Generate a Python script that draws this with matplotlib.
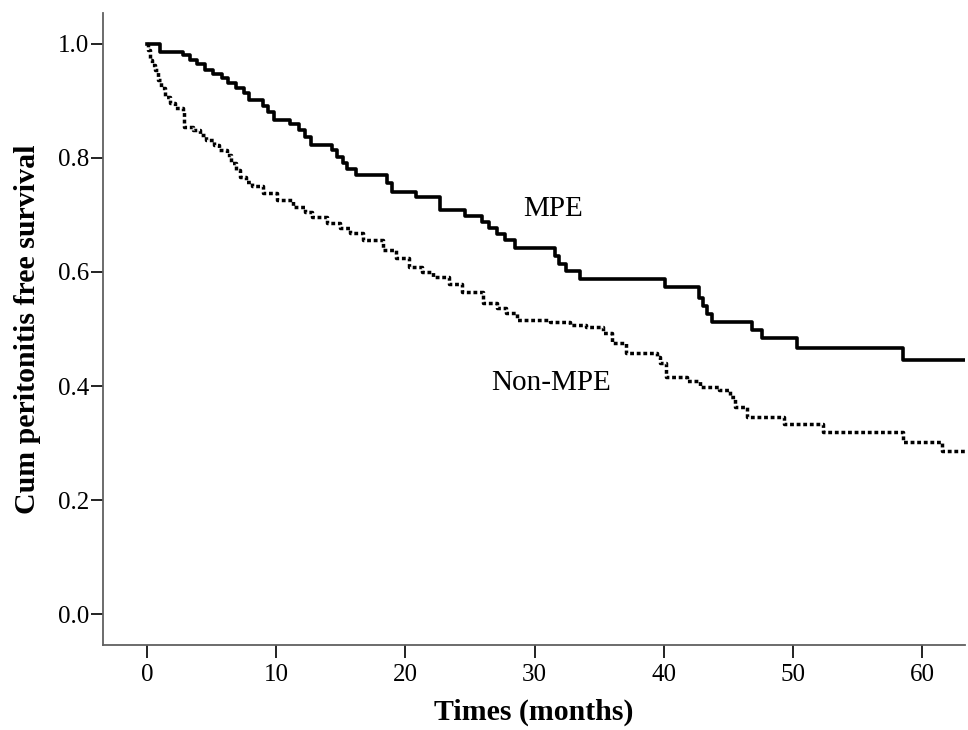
import matplotlib
matplotlib.use("Agg")
import matplotlib.pyplot as plt

# Kaplan-Meier step data (time in months, cumulative survival)
mpe_times = [0, 1.0, 2.8, 3.3, 3.9, 4.5, 5.1, 5.8, 6.3, 6.9, 7.5, 7.9, 9.0, 9.4, 9.8,
             11.1, 11.8, 12.2, 12.7, 14.3, 14.7, 15.2, 15.5, 16.2, 18.6, 19.0, 20.8,
             22.7, 24.6, 25.9, 26.5, 27.1, 27.7, 28.5, 31.6, 31.9, 32.4, 33.5, 40.1,
             42.7, 43.0, 43.3, 43.7, 46.8, 47.6, 50.3, 58.5, 63.3]
mpe_surv = [1.0, 0.986, 0.981, 0.972, 0.965, 0.954, 0.947, 0.940, 0.932, 0.923, 0.914,
            0.902, 0.891, 0.881, 0.867, 0.860, 0.849, 0.837, 0.823, 0.814, 0.802, 0.791,
            0.781, 0.770, 0.756, 0.740, 0.732, 0.709, 0.698, 0.688, 0.677, 0.667, 0.656,
            0.642, 0.628, 0.614, 0.602, 0.588, 0.574, 0.554, 0.540, 0.526, 0.512, 0.498,
            0.484, 0.467, 0.446, 0.446]

nonmpe_times = [0, 0.1, 0.2, 0.4, 0.6, 0.85, 1.1, 1.4, 1.8, 2.2, 2.8, 2.9, 3.6, 4.1, 4.6,
                5.2, 5.6, 6.2, 6.5, 6.9, 7.2, 7.7, 8.1, 9.0, 10.1, 11.3, 12.2, 12.8, 13.9,
                14.9, 15.7, 16.7, 18.3, 19.3, 20.3, 21.3, 22.1, 23.4, 24.4, 26.0, 27.1,
                27.8, 28.6, 31.2, 32.7, 34.0, 35.3, 36.0, 37.1, 39.5, 39.7, 40.2, 41.8,
                42.8, 44.3, 45.1, 45.5, 46.4, 49.3, 52.3, 58.5, 61.5, 63.3]
nonmpe_surv = [1.0, 0.989, 0.972, 0.963, 0.954, 0.937, 0.923, 0.907, 0.896, 0.888, 0.881,
               0.854, 0.849, 0.840, 0.832, 0.823, 0.814, 0.805, 0.791, 0.779, 0.767, 0.758,
               0.751, 0.739, 0.726, 0.714, 0.705, 0.696, 0.686, 0.677, 0.668, 0.656, 0.639,
               0.625, 0.609, 0.600, 0.591, 0.579, 0.565, 0.546, 0.537, 0.528, 0.516, 0.512,
               0.507, 0.504, 0.493, 0.475, 0.458, 0.451, 0.440, 0.416, 0.409, 0.398, 0.393,
               0.381, 0.363, 0.346, 0.333, 0.319, 0.302, 0.286, 0.286]

x_ticks = [0, 10, 20, 30, 40, 50, 60]
y_ticks = [0.0, 0.2, 0.4, 0.6, 0.8, 1.0]
y_tick_labels = ["0.0", "0.2", "0.4", "0.6", "0.8", "1.0"]

plt.rcParams['font.family'] = ['Liberation Serif', 'DejaVu Serif']

fig = plt.figure(figsize=(9.68, 7.30), dpi=100)
ax = fig.add_axes([103/968, 1 - 645/730, (965 - 103)/968, (645 - 13)/730])

ax.step(mpe_times, mpe_surv, where='post', color='black', lw=2.6)
ax.step(nonmpe_times, nonmpe_surv, where='post', color='black', lw=2.5,
        linestyle=(0, (1.1, 0.8)))

ax.set_xlim(-3.4, 63.3)
ax.set_ylim(-0.054, 1.054)
ax.set_xticks(x_ticks)
ax.set_yticks(y_ticks)
ax.set_yticklabels(y_tick_labels)

for s in ['top', 'right']:
    ax.spines[s].set_visible(False)
for s in ['left', 'bottom']:
    ax.spines[s].set_color('#606060')
    ax.spines[s].set_linewidth(1.3)

ax.tick_params(axis='both', direction='out', length=9, width=1.4, color='#222222',
               labelsize=18, labelcolor='black')
ax.tick_params(axis='x', pad=5)
ax.tick_params(axis='y', pad=1)

ax.set_xlabel("Times (months)", fontsize=21.5, fontweight='bold')
ax.xaxis.set_label_coords(0.5, (645 - 712) / 632)
ax.xaxis.label.set_va('center')
ax.set_ylabel("Cum peritonitis free survival", fontsize=21.5, fontweight='bold')
ax.yaxis.set_label_coords((28 - 103) / 862, 0.5)
ax.yaxis.label.set_va('center')

ax.text(31.4, 0.711, "MPE", fontsize=21, ha='center', va='center', color='black')
ax.text(31.3, 0.405, "Non-MPE", fontsize=21, ha='center', va='center', color='black')

fig.savefig("out.png", dpi=100, facecolor='white')
